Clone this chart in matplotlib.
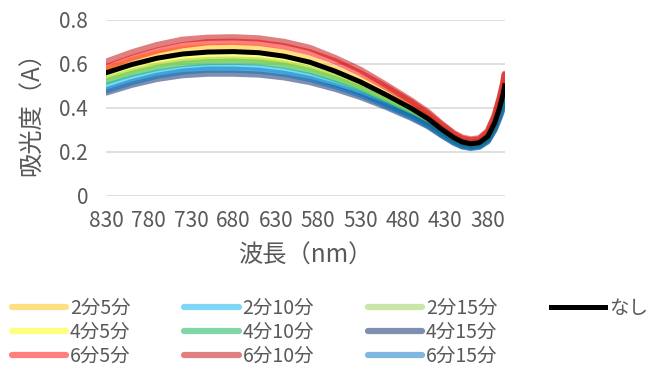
import matplotlib
matplotlib.use("Agg")
import matplotlib.pyplot as plt
from matplotlib.lines import Line2D

plt.rcParams['font.family'] = ['Noto Sans CJK JP', 'DejaVu Sans']

# wavelength (nm), axis runs from 830 down to 360
wavelength = [830, 800, 770, 740, 710, 680, 650, 620, 590, 560, 530, 500,
              470, 450, 435, 420, 410, 400, 390, 380, 372, 366, 362, 360]

abs_2_5 = [0.575, 0.615, 0.646, 0.667, 0.676, 0.678, 0.671, 0.653, 0.623, 0.579, 0.528, 0.468,
           0.404, 0.355, 0.309, 0.269, 0.249, 0.241, 0.246, 0.275, 0.338, 0.410, 0.472, 0.515]
abs_4_5 = [0.540, 0.575, 0.602, 0.620, 0.628, 0.630, 0.625, 0.610, 0.585, 0.547, 0.501, 0.447,
           0.388, 0.342, 0.299, 0.260, 0.240, 0.232, 0.237, 0.264, 0.322, 0.390, 0.448, 0.488]
abs_6_5 = [0.585, 0.627, 0.661, 0.685, 0.699, 0.701, 0.696, 0.680, 0.653, 0.612, 0.558, 0.495,
           0.426, 0.372, 0.325, 0.282, 0.260, 0.252, 0.257, 0.290, 0.360, 0.440, 0.505, 0.550]
abs_2_10 = [0.500, 0.534, 0.560, 0.577, 0.585, 0.586, 0.582, 0.569, 0.546, 0.511, 0.470, 0.420,
            0.367, 0.325, 0.285, 0.249, 0.231, 0.224, 0.229, 0.255, 0.308, 0.368, 0.415, 0.440]
abs_4_10 = [0.520, 0.555, 0.582, 0.600, 0.608, 0.610, 0.606, 0.592, 0.568, 0.532, 0.488, 0.436,
            0.380, 0.336, 0.294, 0.256, 0.236, 0.228, 0.233, 0.260, 0.315, 0.378, 0.430, 0.460]
abs_6_10 = [0.610, 0.652, 0.686, 0.710, 0.719, 0.721, 0.716, 0.700, 0.673, 0.627, 0.573, 0.505,
            0.433, 0.380, 0.330, 0.285, 0.265, 0.257, 0.262, 0.295, 0.365, 0.445, 0.510, 0.555]
abs_2_15 = [0.530, 0.565, 0.592, 0.610, 0.618, 0.620, 0.616, 0.602, 0.578, 0.541, 0.496, 0.443,
            0.385, 0.340, 0.297, 0.258, 0.238, 0.230, 0.235, 0.262, 0.318, 0.382, 0.435, 0.470]
abs_4_15 = [0.470, 0.505, 0.532, 0.549, 0.556, 0.556, 0.552, 0.539, 0.518, 0.487, 0.450, 0.405,
            0.355, 0.316, 0.278, 0.243, 0.226, 0.220, 0.225, 0.250, 0.302, 0.360, 0.405, 0.430]
abs_6_15 = [0.480, 0.517, 0.546, 0.565, 0.574, 0.574, 0.569, 0.555, 0.532, 0.499, 0.460, 0.412,
            0.360, 0.319, 0.279, 0.243, 0.225, 0.218, 0.223, 0.248, 0.300, 0.355, 0.400, 0.420]
abs_none = [0.560, 0.597, 0.626, 0.645, 0.654, 0.656, 0.651, 0.635, 0.608, 0.567, 0.518, 0.460,
            0.398, 0.350, 0.305, 0.265, 0.245, 0.237, 0.242, 0.270, 0.330, 0.400, 0.460, 0.500]

labels = ['2分5分', '4分5分', '6分5分', '2分10分', '4分10分', '6分10分',
          '2分15分', '4分15分', '6分15分']
series = [abs_2_5, abs_4_5, abs_6_5, abs_2_10, abs_4_10, abs_6_10,
          abs_2_15, abs_4_15, abs_6_15]
colors = ['#FFC000', '#FFFF00', '#FF0000', '#00B0F0', '#00B050', '#C00000',
          '#92D050', '#002060', '#0070C0']

x_ticks = [830, 780, 730, 680, 630, 580, 530, 480, 430, 380]
y_ticks = [0, 0.2, 0.4, 0.6, 0.8]
y_tick_labels = ['0', '0.2', '0.4', '0.6', '0.8']

grey = '#595959'

fig = plt.figure(figsize=(6.72, 3.69), dpi=100)
ax = fig.add_axes([0.158, 0.469, 0.593, 0.477])

handles = []
for vals, lab, col in zip(series, labels, colors):
    h, = ax.plot(wavelength, vals, color=col, alpha=0.5, lw=4.5,
                 solid_capstyle='round', label=lab)
    handles.append(h)
h_none, = ax.plot(wavelength, abs_none, color='black', lw=3.6, label='なし')

ax.set_xlim(830, 360)
ax.set_ylim(0, 0.8)
ax.set_xticks(x_ticks)
ax.set_yticks(y_ticks)
ax.set_yticklabels(y_tick_labels)
ax.grid(axis='y', color='#D9D9D9', lw=1.2)
ax.set_axisbelow(True)
for s in ax.spines.values():
    s.set_visible(False)
ax.tick_params(axis='both', length=0, labelsize=15, labelcolor=grey)
ax.tick_params(axis='x', pad=10)
ax.tick_params(axis='y', pad=13)

ax.set_xlabel('波長（nm）', fontsize=17.5, color=grey, labelpad=8)
ax.set_ylabel('吸光度（A）', fontsize=17.5, color=grey, labelpad=10)

# blank entries so なし sits alone in the 4th column
blank = Line2D([], [], color='none')
leg_handles = handles + [h_none, blank, blank]
leg_labels = labels + ['なし', '', '']
fig.legend(leg_handles, leg_labels, loc='lower left', bbox_to_anchor=(0.0, -0.025),
           ncol=4, frameon=False, fontsize=14, labelcolor=grey,
           handlelength=2.8, handletextpad=0.2, columnspacing=2.75,
           labelspacing=0.15, borderaxespad=0.2)

fig.savefig('out.png', dpi=100)
